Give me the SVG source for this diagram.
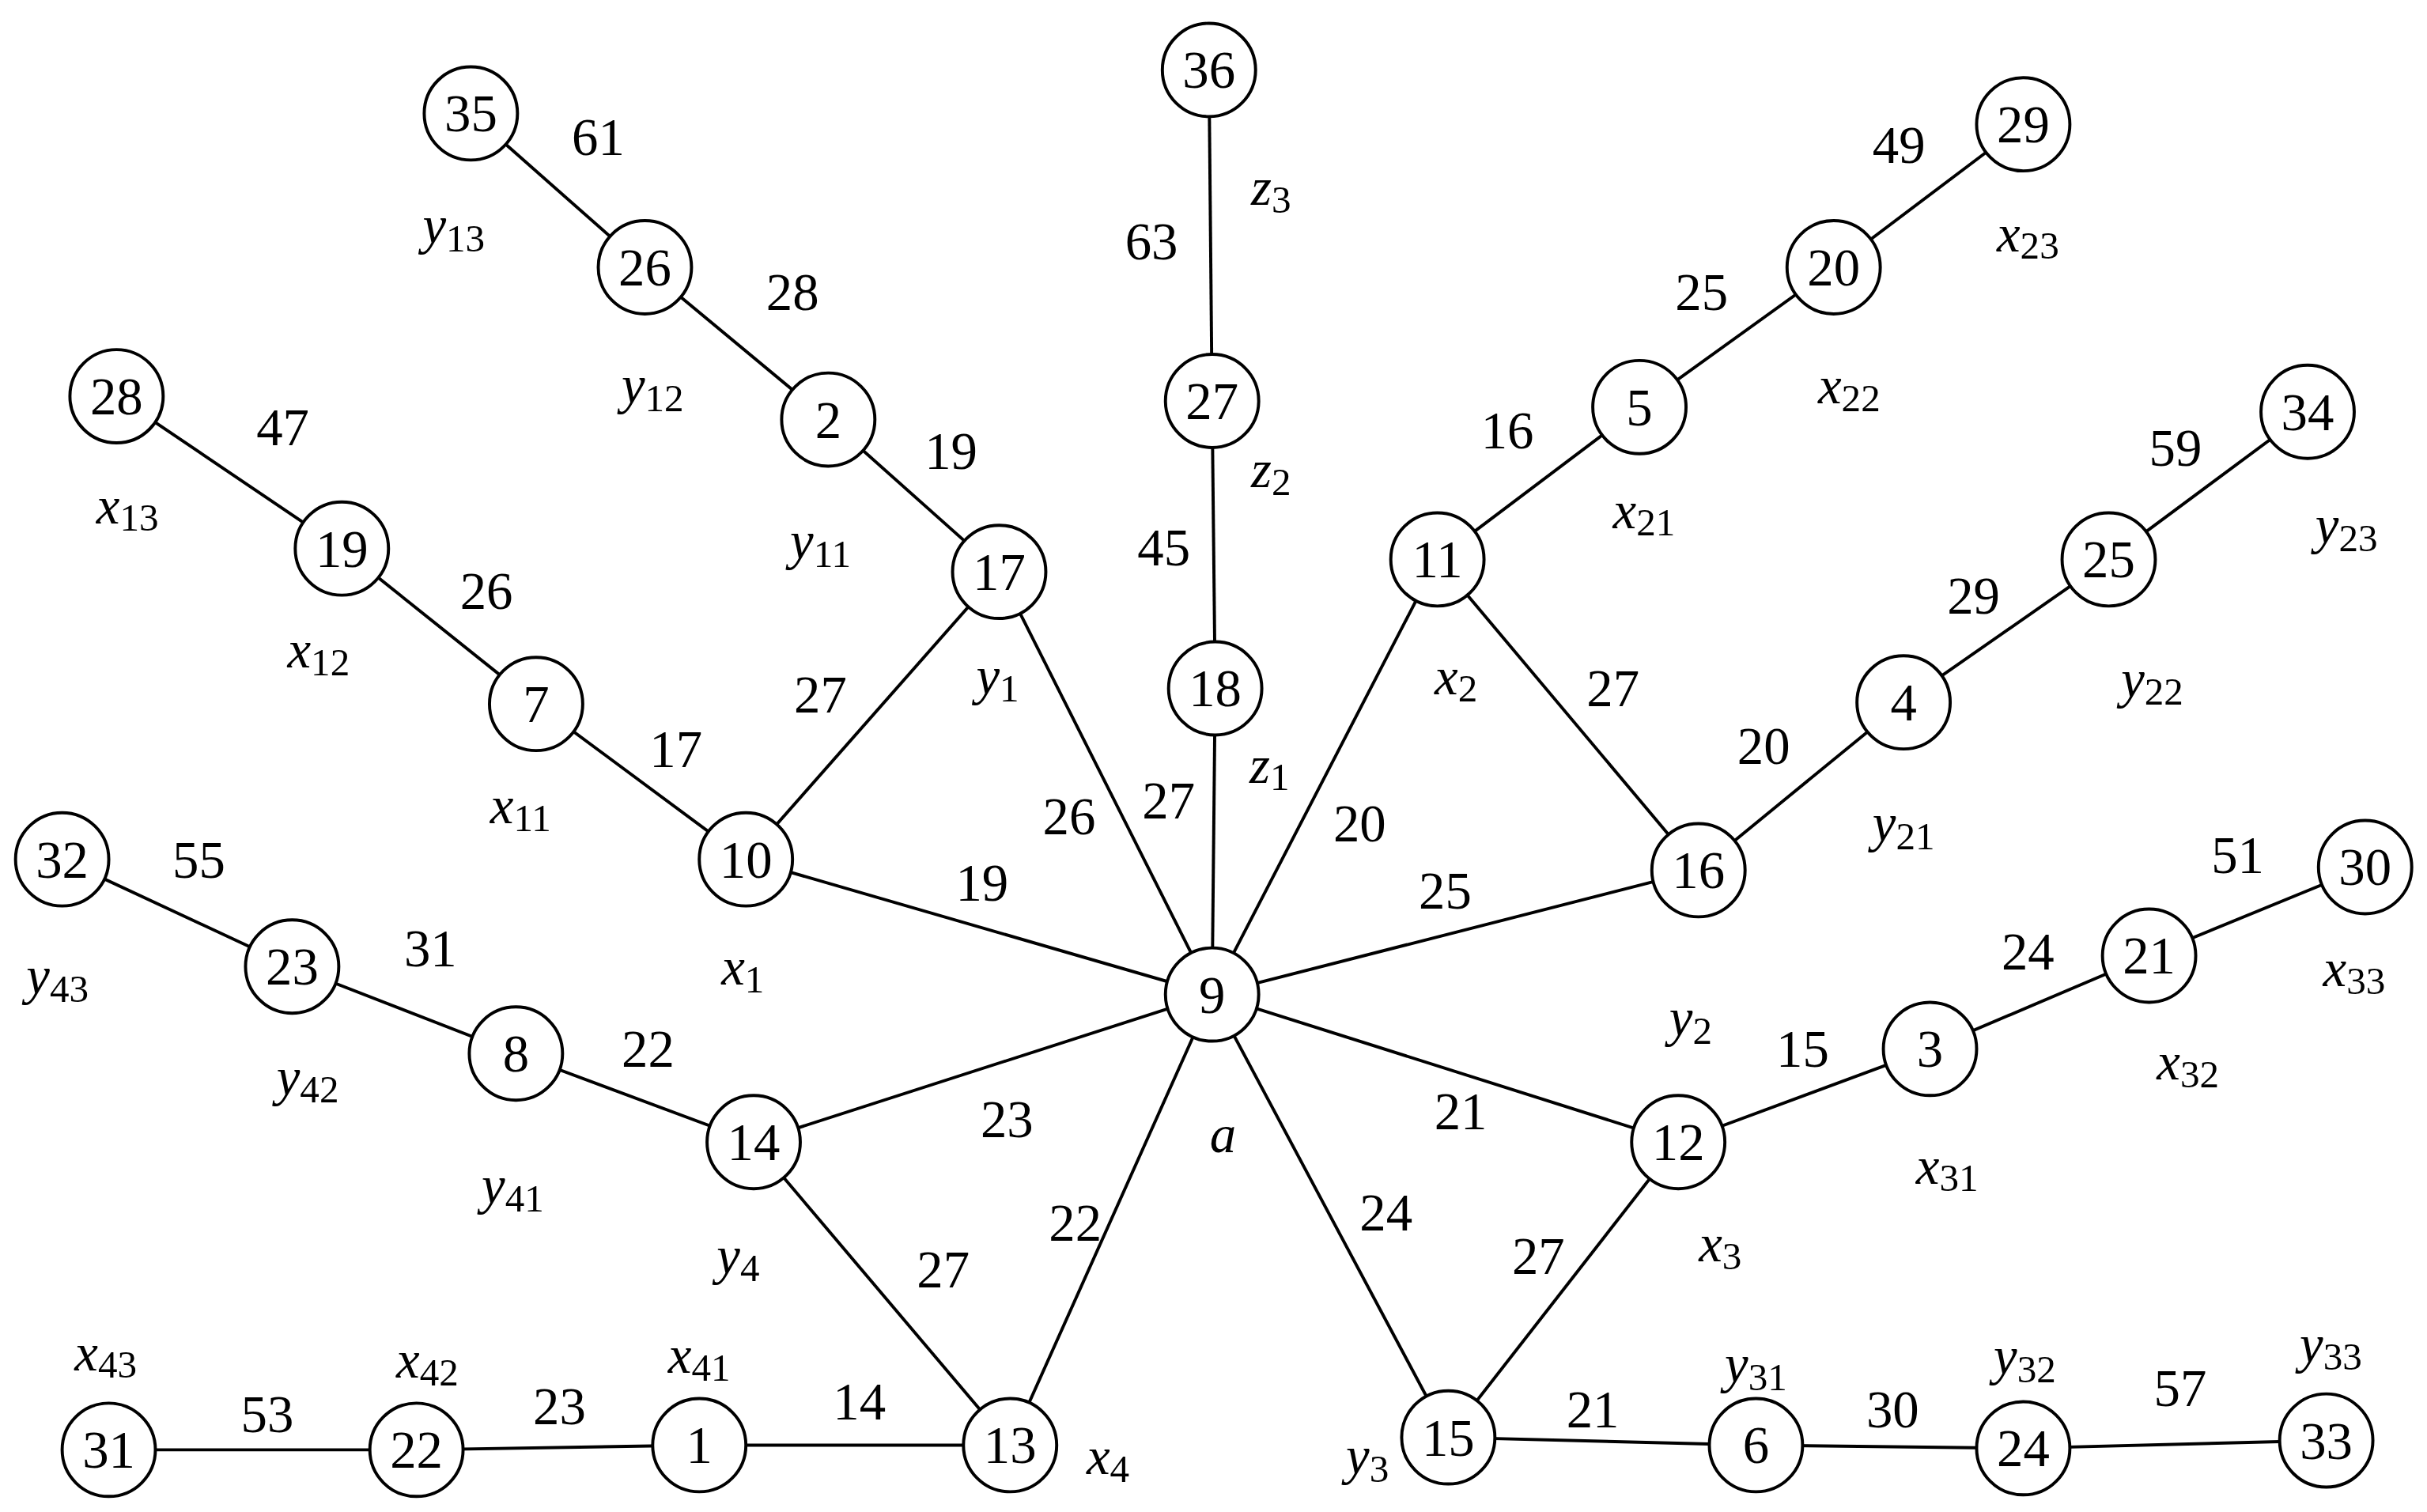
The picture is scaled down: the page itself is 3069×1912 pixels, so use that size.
<svg xmlns="http://www.w3.org/2000/svg" width="3069" height="1912" viewBox="0 0 3069 1912">
<style>
circle{fill:#fff;stroke:#000;stroke-width:2}
line{stroke:#000;stroke-width:2}
text{font-family:"Liberation Serif",serif;font-size:34px;text-anchor:middle;dominant-baseline:central;fill:#000}
.v{font-style:italic}
.s{font-size:25px;font-style:normal}
</style>
<rect width="3069" height="1912" fill="#fff"/>
<g transform="scale(1.965)">
<g id="connectors">
<line x1="778" y1="45" x2="780" y2="258"/><line x1="780" y1="258" x2="782" y2="443"/><line x1="782" y1="443" x2="780" y2="640"/>
<line x1="303" y1="73" x2="415" y2="172"/><line x1="415" y1="172" x2="533" y2="270"/><line x1="533" y1="270" x2="643" y2="368"/>
<line x1="643" y1="368" x2="480" y2="553"/><line x1="643" y1="368" x2="780" y2="640"/>
<line x1="75" y1="255" x2="220" y2="353"/><line x1="220" y1="353" x2="345" y2="453"/><line x1="345" y1="453" x2="480" y2="553"/><line x1="480" y1="553" x2="780" y2="640"/>
<line x1="40" y1="553" x2="188" y2="622"/><line x1="188" y1="622" x2="332" y2="678"/><line x1="332" y1="678" x2="485" y2="735"/>
<line x1="485" y1="735" x2="780" y2="640"/><line x1="485" y1="735" x2="650" y2="930"/><line x1="650" y1="930" x2="780" y2="640"/>
<line x1="70" y1="933" x2="268" y2="933"/><line x1="268" y1="933" x2="450" y2="930"/><line x1="450" y1="930" x2="650" y2="930"/>
<line x1="1302" y1="80" x2="1180" y2="172"/><line x1="1180" y1="172" x2="1055" y2="262"/><line x1="1055" y1="262" x2="925" y2="360"/>
<line x1="925" y1="360" x2="780" y2="640"/><line x1="925" y1="360" x2="1093" y2="560"/>
<line x1="1485" y1="265" x2="1357" y2="360"/><line x1="1357" y1="360" x2="1225" y2="452"/><line x1="1225" y1="452" x2="1093" y2="560"/><line x1="1093" y1="560" x2="780" y2="640"/>
<line x1="1522" y1="558" x2="1383" y2="615"/><line x1="1383" y1="615" x2="1242" y2="675"/><line x1="1242" y1="675" x2="1080" y2="735"/>
<line x1="1080" y1="735" x2="780" y2="640"/><line x1="1080" y1="735" x2="932" y2="925"/><line x1="932" y1="925" x2="780" y2="640"/>
<line x1="932" y1="925" x2="1130" y2="930"/><line x1="1130" y1="930" x2="1302" y2="932"/><line x1="1302" y1="932" x2="1497" y2="927"/>
</g>
<g id="edge-labels">
<text x="741" y="155">63</text><text x="749" y="352">45</text><text x="385" y="88">61</text><text x="510" y="188">28</text>
<text x="612" y="290">19</text><text x="528" y="447">27</text><text x="688" y="525">26</text><text x="752" y="515">27</text>
<text x="182" y="275">47</text><text x="313" y="380">26</text><text x="435" y="482">17</text><text x="632" y="568">19</text>
<text x="128" y="553">55</text><text x="277" y="610">31</text><text x="417" y="675">22</text><text x="648" y="720">23</text>
<text x="607" y="817">27</text><text x="692" y="787">22</text><text x="172" y="910">53</text><text x="360" y="905">23</text>
<text x="553" y="902">14</text><text x="1222" y="93">49</text><text x="1095" y="188">25</text><text x="970" y="277">16</text>
<text x="875" y="530">20</text><text x="1038" y="443">27</text><text x="1400" y="288">59</text><text x="1270" y="383">29</text>
<text x="1135" y="480">20</text><text x="930" y="573">25</text><text x="1440" y="550">51</text><text x="1305" y="612">24</text>
<text x="1160" y="675">15</text><text x="940" y="715">21</text><text x="892" y="780">24</text><text x="990" y="808">27</text>
<text x="1025" y="907">21</text><text x="1218" y="907">30</text><text x="1403" y="893">57</text>
</g>
<g id="node-labels" class="v">
<text x="818" y="120"><tspan>z</tspan><tspan class="s" dy="8">3</tspan></text>
<text x="818" y="302"><tspan>z</tspan><tspan class="s" dy="8">2</tspan></text>
<text x="817" y="492"><tspan>z</tspan><tspan class="s" dy="8">1</tspan></text>
<text x="292" y="145"><tspan>y</tspan><tspan class="s" dy="8">13</tspan></text>
<text x="420" y="248"><tspan>y</tspan><tspan class="s" dy="8">12</tspan></text>
<text x="528" y="348"><tspan>y</tspan><tspan class="s" dy="8">11</tspan></text>
<text x="642" y="435"><tspan>y</tspan><tspan class="s" dy="8">1</tspan></text>
<text x="82" y="325"><tspan>x</tspan><tspan class="s" dy="8">13</tspan></text>
<text x="205" y="418"><tspan>x</tspan><tspan class="s" dy="8">12</tspan></text>
<text x="335" y="518"><tspan>x</tspan><tspan class="s" dy="8">11</tspan></text>
<text x="478" y="622"><tspan>x</tspan><tspan class="s" dy="8">1</tspan></text>
<text x="37" y="628"><tspan>y</tspan><tspan class="s" dy="8">43</tspan></text>
<text x="198" y="693"><tspan>y</tspan><tspan class="s" dy="8">42</tspan></text>
<text x="330" y="763"><tspan>y</tspan><tspan class="s" dy="8">41</tspan></text>
<text x="475" y="808"><tspan>y</tspan><tspan class="s" dy="8">4</tspan></text>
<text x="68" y="870"><tspan>x</tspan><tspan class="s" dy="8">43</tspan></text>
<text x="275" y="875"><tspan>x</tspan><tspan class="s" dy="8">42</tspan></text>
<text x="450" y="872"><tspan>x</tspan><tspan class="s" dy="8">41</tspan></text>
<text x="713" y="937"><tspan>x</tspan><tspan class="s" dy="8">4</tspan></text>
<text x="787" y="730">a</text>
<text x="1305" y="150"><tspan>x</tspan><tspan class="s" dy="8">23</tspan></text>
<text x="1190" y="248"><tspan>x</tspan><tspan class="s" dy="8">22</tspan></text>
<text x="1058" y="328"><tspan>x</tspan><tspan class="s" dy="8">21</tspan></text>
<text x="937" y="435"><tspan>x</tspan><tspan class="s" dy="8">2</tspan></text>
<text x="1510" y="338"><tspan>y</tspan><tspan class="s" dy="8">23</tspan></text>
<text x="1385" y="437"><tspan>y</tspan><tspan class="s" dy="8">22</tspan></text>
<text x="1225" y="530"><tspan>y</tspan><tspan class="s" dy="8">21</tspan></text>
<text x="1088" y="655"><tspan>y</tspan><tspan class="s" dy="8">2</tspan></text>
<text x="1515" y="623"><tspan>x</tspan><tspan class="s" dy="8">33</tspan></text>
<text x="1408" y="683"><tspan>x</tspan><tspan class="s" dy="8">32</tspan></text>
<text x="1253" y="750"><tspan>x</tspan><tspan class="s" dy="8">31</tspan></text>
<text x="1107" y="800"><tspan>x</tspan><tspan class="s" dy="8">3</tspan></text>
<text x="880" y="937"><tspan>y</tspan><tspan class="s" dy="8">3</tspan></text>
<text x="1130" y="878"><tspan>y</tspan><tspan class="s" dy="8">31</tspan></text>
<text x="1303" y="873"><tspan>y</tspan><tspan class="s" dy="8">32</tspan></text>
<text x="1500" y="865"><tspan>y</tspan><tspan class="s" dy="8">33</tspan></text>
</g>
<g id="n36"><circle cx="778" cy="45" r="30"/><text x="778" y="45">36</text></g>
<g id="n27"><circle cx="780" cy="258" r="30"/><text x="780" y="258">27</text></g>
<g id="n18"><circle cx="782" cy="443" r="30"/><text x="782" y="443">18</text></g>
<g id="n9"><circle cx="780" cy="640" r="30"/><text x="780" y="640">9</text></g>
<g id="n35"><circle cx="303" cy="73" r="30"/><text x="303" y="73">35</text></g>
<g id="n26"><circle cx="415" cy="172" r="30"/><text x="415" y="172">26</text></g>
<g id="n2"><circle cx="533" cy="270" r="30"/><text x="533" y="270">2</text></g>
<g id="n17"><circle cx="643" cy="368" r="30"/><text x="643" y="368">17</text></g>
<g id="n28"><circle cx="75" cy="255" r="30"/><text x="75" y="255">28</text></g>
<g id="n19"><circle cx="220" cy="353" r="30"/><text x="220" y="353">19</text></g>
<g id="n7"><circle cx="345" cy="453" r="30"/><text x="345" y="453">7</text></g>
<g id="n10"><circle cx="480" cy="553" r="30"/><text x="480" y="553">10</text></g>
<g id="n32"><circle cx="40" cy="553" r="30"/><text x="40" y="553">32</text></g>
<g id="n23"><circle cx="188" cy="622" r="30"/><text x="188" y="622">23</text></g>
<g id="n8"><circle cx="332" cy="678" r="30"/><text x="332" y="678">8</text></g>
<g id="n14"><circle cx="485" cy="735" r="30"/><text x="485" y="735">14</text></g>
<g id="n31"><circle cx="70" cy="933" r="30"/><text x="70" y="933">31</text></g>
<g id="n22"><circle cx="268" cy="933" r="30"/><text x="268" y="933">22</text></g>
<g id="n1"><circle cx="450" cy="930" r="30"/><text x="450" y="930">1</text></g>
<g id="n13"><circle cx="650" cy="930" r="30"/><text x="650" y="930">13</text></g>
<g id="n29"><circle cx="1302" cy="80" r="30"/><text x="1302" y="80">29</text></g>
<g id="n20"><circle cx="1180" cy="172" r="30"/><text x="1180" y="172">20</text></g>
<g id="n5"><circle cx="1055" cy="262" r="30"/><text x="1055" y="262">5</text></g>
<g id="n11"><circle cx="925" cy="360" r="30"/><text x="925" y="360">11</text></g>
<g id="n34"><circle cx="1485" cy="265" r="30"/><text x="1485" y="265">34</text></g>
<g id="n25"><circle cx="1357" cy="360" r="30"/><text x="1357" y="360">25</text></g>
<g id="n4"><circle cx="1225" cy="452" r="30"/><text x="1225" y="452">4</text></g>
<g id="n16"><circle cx="1093" cy="560" r="30"/><text x="1093" y="560">16</text></g>
<g id="n30"><circle cx="1522" cy="558" r="30"/><text x="1522" y="558">30</text></g>
<g id="n21"><circle cx="1383" cy="615" r="30"/><text x="1383" y="615">21</text></g>
<g id="n3"><circle cx="1242" cy="675" r="30"/><text x="1242" y="675">3</text></g>
<g id="n12"><circle cx="1080" cy="735" r="30"/><text x="1080" y="735">12</text></g>
<g id="n15"><circle cx="932" cy="925" r="30"/><text x="932" y="925">15</text></g>
<g id="n6"><circle cx="1130" cy="930" r="30"/><text x="1130" y="930">6</text></g>
<g id="n24"><circle cx="1302" cy="932" r="30"/><text x="1302" y="932">24</text></g>
<g id="n33"><circle cx="1497" cy="927" r="30"/><text x="1497" y="927">33</text></g>
</g>
</svg>
